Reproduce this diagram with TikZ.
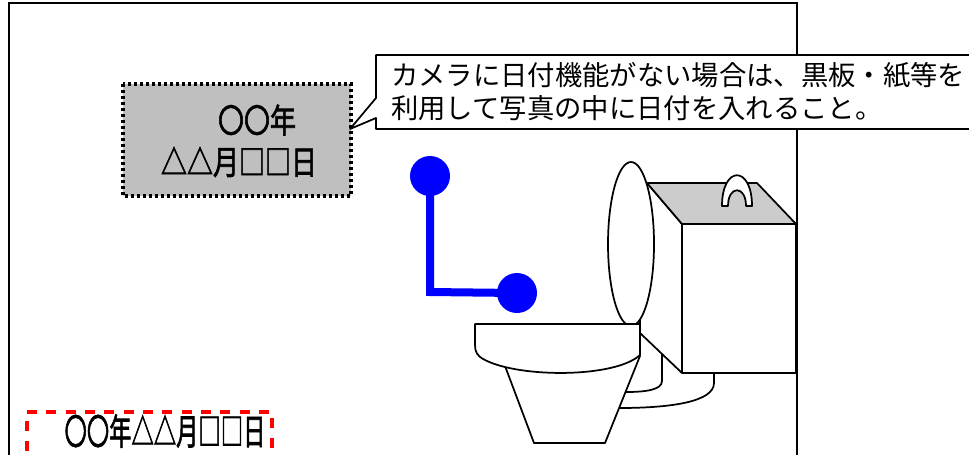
\documentclass[tikz,border=0pt]{standalone}
\usepackage{fontspec}
\usepackage{graphicx}
\newfontfamily\jpfont{Noto Sans CJK JP}
% heavier face for the date stamps
\newfontfamily\jpstamp[FakeBold=2.2]{Noto Sans CJK JP}
\usetikzlibrary{shapes.geometric}

\tikzset{
  frameline/.style={draw=black, line width=1.6pt},
  ol/.style={draw=black, line width=1.3pt, line join=round},
  datecard/.style={draw=black, fill=black!25, line width=2.4pt, dash pattern=on 2.2pt off 2.3pt},
  stampbox/.style={draw=red, line width=3pt, dash pattern=on 7.5pt off 7pt},
  rail/.style={draw=blue, line width=6pt},
  railknob/.style={circle, fill=blue, inner sep=0pt, minimum size=30pt},
  note/.style={font=\jpfont\fontsize{20.5pt}{24pt}\selectfont, anchor=west, inner sep=0pt},
  stamptext/.style={inner sep=0pt},
}

\begin{document}
\begin{tikzpicture}[x=0.75pt, y=-0.75pt]
\useasboundingbox (0,0) rectangle (969,454);

% room frame
\draw[frameline] (9,470) -- (9,3) -- (797,3) -- (797,470);

% date card held up in the photo
\draw[datecard] (123,84) rectangle (351,196);
\node[stamptext, font=\jpstamp\fontsize{25pt}{28pt}\selectfont] (year) at (257,120)
  {\scalebox{0.78}[1]{〇〇年}};
\node[stamptext, font=\jpstamp\fontsize{25pt}{28pt}\selectfont] (day) at (239,162)
  {\scalebox{0.78}[1]{△△月□□日}};

% speech callout
\draw[ol, fill=white] (376,55) -- (975,55) -- (975,129) -- (376,129) -- (376,118)
  -- (350,129) -- (376,98) -- cycle;
\node[note] (line1) at (391,75) {カメラに日付機能がない場合は、黒板・紙等を};
\node[note] (line2) at (391,108) {利用して写真の中に日付を入れること。};

% hand rail
\node[railknob] (knobA) at (430,176) {};
\node[railknob] (knobB) at (517,293) {};
\coordinate (bend) at (430,292);
\draw[rail] (knobA.center) -- (bend) -- (knobB.center);

% toilet: foot outlines
\draw[ol] (662,354) -- (662,381) .. controls (662,390) and (645,392) .. (626,392);
\draw[ol] (714,373) -- (714,383) .. controls (714,402) and (670,408) .. (619,408);

% tank
\draw[ol, fill=white] (647,183) -- (682,224) -- (682,373) -- (640,333) -- (640,200) -- cycle;
\draw[ol, fill=black!20] (647,183) -- (757,183) -- (796,224) -- (682,224) -- cycle;
\draw[ol, fill=white] (682,224) rectangle (796,373);
\draw[ol, fill=white] (722,206) .. controls (722,165) and (752,165) .. (752,206)
  -- (746,206) .. controls (746,185) and (728,185) .. (728,206) -- cycle;

% raised lid
\draw[ol, fill=white] (631,244) ellipse [x radius=23, y radius=82];

% bowl and seat
\draw[ol, fill=white] (505,366) -- (534,443) -- (605,443) -- (640,356) -- cycle;
\draw[ol, fill=white] (475,324) -- (640,324) -- (640,355)
  .. controls (615,378) and (520,378) .. (485,360)
  .. controls (477,356) and (475,352) .. (475,345) -- cycle;

% date stamp printed on the photo
\draw[stampbox] (27,470) -- (27,412) -- (272,412) -- (272,470);
\node[stamptext, font=\jpstamp\fontsize{27pt}{30pt}\selectfont] (stamp) at (165,431)
  {\scalebox{0.62}[1]{〇〇年△△月□□日}};
\end{tikzpicture}
\end{document}
